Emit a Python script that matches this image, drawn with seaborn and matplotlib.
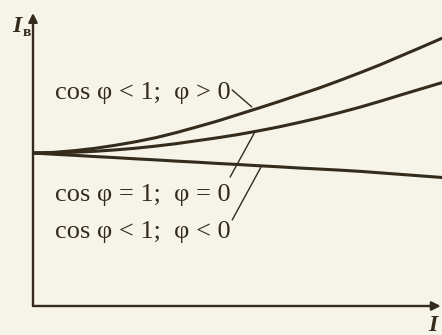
import matplotlib
matplotlib.use("Agg")
import matplotlib.pyplot as plt
import seaborn as sns
import pandas as pd

# load current I (relative units) and excitation current I_в (relative units)
current = [0.0, 0.05, 0.1, 0.15, 0.2, 0.25, 0.3, 0.35, 0.4, 0.45, 0.5,
           0.55, 0.6, 0.65, 0.7, 0.75, 0.8, 0.85, 0.9, 0.95, 1.0]
iv_lagging = [1.0, 1.004, 1.015, 1.03, 1.05, 1.073, 1.10, 1.133, 1.17, 1.208, 1.25,
              1.292, 1.335, 1.38, 1.425, 1.474, 1.525, 1.578, 1.635, 1.692, 1.75]
iv_unity = [1.0, 1.001, 1.005, 1.011, 1.02, 1.031, 1.045, 1.061, 1.08, 1.099, 1.12,
            1.144, 1.17, 1.199, 1.23, 1.264, 1.30, 1.339, 1.38, 1.42, 1.46]
iv_leading = [1.0, 0.992, 0.985, 0.977, 0.97, 0.962, 0.955, 0.947, 0.94, 0.932, 0.925,
              0.917, 0.91, 0.902, 0.895, 0.888, 0.88, 0.87, 0.86, 0.85, 0.84]

labels = ["cos φ < 1;  φ > 0", "cos φ = 1;  φ = 0", "cos φ < 1;  φ < 0"]
y_label = "I"
y_sub = "в"
x_label = "I"

bg = "#f6f3e9"
ink = "#332b1c"

sns.set_theme(style="white")
plt.rcParams["font.family"] = ["Liberation Serif", "DejaVu Serif"]

W, H = 442, 335
fig = plt.figure(figsize=(W / 100, H / 100), dpi=100, facecolor=bg)
x0, x1 = 33, 442
y0, y1 = 306, 13
ax = fig.add_axes([x0 / W, (H - y0) / H, (x1 - x0) / W, (y0 - y1) / H])
ax.set_facecolor(bg)
ax.set_xlim(0, 1)
ax.set_ylim(0, (y0 - y1) / 153)

n = len(current)
df = pd.DataFrame({
    "I": current * 3,
    "Iv": iv_lagging + iv_unity + iv_leading,
    "case": [labels[0]] * n + [labels[1]] * n + [labels[2]] * n,
})
sns.lineplot(data=df, x="I", y="Iv", hue="case", palette=[ink] * 3,
             linewidth=2.2, legend=False, ax=ax, clip_on=True)

for s in ax.spines.values():
    s.set_visible(False)
ax.set_xticks([])
ax.set_yticks([])
ax.set_xlabel("")
ax.set_ylabel("")

# axis arrows
ax.annotate("", xy=(0, 1.0), xytext=(0, 0), xycoords="axes fraction",
            arrowprops=dict(arrowstyle="-|>", lw=1.7, color=ink, mutation_scale=13,
                            shrinkA=0, shrinkB=0), annotation_clip=False)
ax.annotate("", xy=(0.997, 0), xytext=(0, 0), xycoords="axes fraction",
            arrowprops=dict(arrowstyle="-|>", lw=1.7, color=ink, mutation_scale=13,
                            shrinkA=0, shrinkB=0), annotation_clip=False)

# axis labels
fig.text(12 / W, 1 - 32 / H, y_label, fontsize=17, style="italic", fontweight="bold",
         color=ink, ha="left", va="baseline")
fig.text(23 / W, 1 - 36 / H, y_sub, fontsize=11, fontweight="bold",
         color=ink, ha="left", va="baseline")
fig.text(428 / W, 1 - 331 / H, x_label, fontsize=17, style="italic", fontweight="bold",
         color=ink, ha="left", va="baseline")

# curve labels
fs = 19
ax.text(0.054, 1.392, labels[0], fontsize=fs, color=ink, ha="left", va="center")
ax.text(0.054, 0.725, labels[1], fontsize=fs, color=ink, ha="left", va="center")
ax.text(0.054, 0.484, labels[2], fontsize=fs, color=ink, ha="left", va="center")

# leader lines
ax.plot([0.487, 0.535], [1.412, 1.301], color=ink, lw=1.0)
ax.plot([0.482, 0.543], [0.843, 1.14], color=ink, lw=1.0)
ax.plot([0.487, 0.557], [0.562, 0.906], color=ink, lw=1.0)

fig.savefig("out.png", dpi=100, facecolor=bg)
